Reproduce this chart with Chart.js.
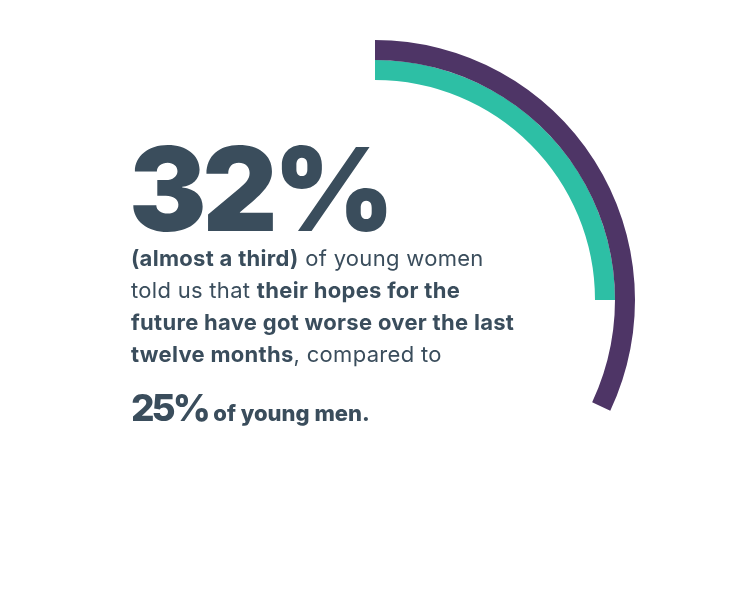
<!DOCTYPE html>
<html><head><meta charset="utf-8">
<script src="https://cdn.jsdelivr.net/npm/chart.js@4"></script>
<style>
html,body{margin:0;padding:0;background:#fff;}
#wrap{position:relative;width:750px;height:600px;}
canvas{position:absolute;left:0;top:0;}
.t{position:absolute;color:#3a4d5c;font-family:Inter,"Noto Sans",sans-serif;white-space:nowrap;}
#big{left:129px;top:131px;font-size:116px;font-weight:900;letter-spacing:-4px;line-height:1;}
#body{left:131px;top:242px;font-size:22px;line-height:32px;font-weight:400;letter-spacing:0.3px;}
#body b{font-weight:700;}
#men{left:131px;top:388px;font-weight:800;line-height:40px;}
#men .n{font-size:37px;letter-spacing:-3px;}
#men .s{font-size:22px;margin-left:2px;}
</style></head>
<body><div id="wrap"><canvas id="c" width="750" height="600"></canvas>
<div class="t" id="big">32%</div>
<div class="t" id="body"><b>(almost a third)</b> of young women<br>told us that <b>their hopes for the</b><br><b>future have got worse over the last</b><br><b>twelve months</b>, compared to</div>
<div class="t" id="men"><span class="n">25%</span> <span class="s">of young men.</span></div>
</div>
<script>
const groups = ["Young women", "Young men"];
const worsePct = [32, 25];
const colors = ["#4e3566", "#2dbfa5"];

const datasets = groups.map((g, i) => ({
  label: g,
  data: [worsePct[i], 100 - worsePct[i]],
  backgroundColor: [colors[i], "rgba(0,0,0,0)"],
  borderWidth: 0
}));

new Chart(document.getElementById("c"), {
  type: "doughnut",
  data: { labels: ["Worse", "Other"], datasets },
  options: {
    responsive: false,
    animation: false,
    radius: 260,
    cutout: (220 / 260 * 100) + "%",
    layout: { padding: 0 },
    plugins: { legend: { display: false }, tooltip: { enabled: false } }
  }
});
</script>
</body></html>
